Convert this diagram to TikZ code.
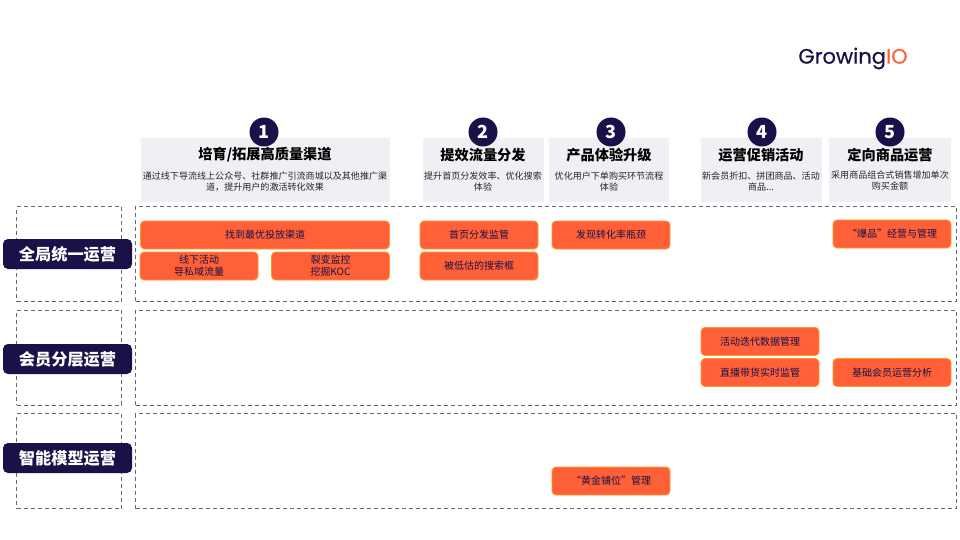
\documentclass[tikz,border=0pt]{standalone}
\usepackage{fontspec}
\setmainfont{Noto Sans CJK SC}
\newfontfamily\logofont[FakeBold=0.5]{Poppins}
\usepackage{xcolor}
\usetikzlibrary{positioning}
\definecolor{Navy}{HTML}{1B1148}
\definecolor{Coral}{HTML}{FF6037}
\definecolor{Amber}{HTML}{FF9A1E}
\definecolor{Pale}{HTML}{EFF0F4}
\definecolor{DashGray}{HTML}{66637F}
\tikzset{
  headbox/.style={fill=Pale,minimum height=64pt,inner sep=0pt},
  numdot/.style={circle,fill=Navy,text=white,minimum size=29pt,inner sep=0pt,font=\fontsize{18}{18}\selectfont\bfseries},
  headtitle/.style={font=\fontsize{14.2}{16}\selectfont\bfseries,text=black,inner sep=0pt},
  headnote/.style={align=center,font=\fontsize{9.05}{11}\selectfont,text=black!85,inner sep=0pt},
  rowbox/.style={draw=DashGray,dashed,line width=0.8pt,dash pattern=on 4pt off 3pt,minimum height=95pt,inner sep=0pt},
  rowlabel/.style={rounded corners=5pt,fill=Navy,text=white,minimum width=129pt,minimum height=30pt,inner sep=0pt,font=\fontsize{16.2}{18}\selectfont\bfseries},
  opbox/.style={draw=Amber,fill=Coral,line width=0.8pt,rounded corners=4pt,minimum width=118pt,minimum height=28pt,inner sep=0pt,align=center,text=Navy,font=\fontsize{10}{12}\selectfont},
}
\begin{document}
\begin{tikzpicture}[x=1pt,y=-1pt]
  \useasboundingbox (0,0) rectangle (960,540);
  % logo
  \node[inner sep=0pt,text=Navy,font=\logofont\fontsize{21}{21}\selectfont] (logo) at (853,58.5) {Growing\textcolor{Coral}{IO}};
  % column heads
  \node[headbox,minimum width=249pt] (headA) at (265.5,170) {};
  \node[headbox,minimum width=121pt] (headB) at (483.5,170) {};
  \node[headbox,minimum width=120pt] (headC) at (609,170) {};
  \node[headbox,minimum width=121pt] (headD) at (761.5,170) {};
  \node[headbox,minimum width=122pt] (headE) at (890,170) {};
  \node[numdot] (dotA) at (264,132) {1};
  \node[numdot] (dotB) at (483,132) {2};
  \node[numdot] (dotC) at (611,132) {3};
  \node[numdot] (dotD) at (762,132) {4};
  \node[numdot] (dotE) at (890,132) {5};
  \node[headtitle] (titleA) at (265,155) {培育/拓展高质量渠道};
  \node[headtitle] (titleB) at (483,155) {提效流量分发};
  \node[headtitle] (titleC) at (609,155) {产品体验升级};
  \node[headtitle] (titleD) at (761,155) {运营促销活动};
  \node[headtitle] (titleE) at (890,155) {定向商品运营};
  \node[headnote] (noteA) at (265,182) {通过线下导流线上公众号、社群推广引流商城以及其他推广渠\\道，提升用户的激活转化效果};
  \node[headnote] (noteB) at (483,181.5) {提升首页分发效率、优化搜索\\体验};
  \node[headnote] (noteC) at (609,182) {优化用户下单购买环节流程\\体验};
  \node[headnote] (noteD) at (761,182) {新会员折扣、拼团商品、活动\\商品...};
  \node[headnote] (noteE) at (890,181) {采用商品组合式销售增加单次\\购买金额};
  % rows
  \node[rowbox,minimum width=105pt] (sideA) at (69,254) {};
  \node[rowbox,minimum width=105pt] (sideB) at (69,357.5) {};
  \node[rowbox,minimum width=105pt] (sideC) at (69,461) {};
  \node[rowbox,minimum width=820.5pt] (mainA) at (545.75,254) {};
  \node[rowbox,minimum width=820.5pt] (mainB) at (545.75,357.5) {};
  \node[rowbox,minimum width=820.5pt] (mainC) at (545.75,461) {};
  \node[rowlabel] (labelA) at (67.5,254) {全局统一运营};
  \node[rowlabel] (labelB) at (67.5,359) {会员分层运营};
  \node[rowlabel] (labelC) at (67.5,458) {智能模型运营};
  % row 1
  \node[opbox,minimum width=249pt] (opChannel) at (265,235) {找到最优投放渠道};
  \node[opbox] (opOffline) at (199,266) {线下活动\\导私域流量};
  \node[opbox] (opFission) at (330.5,266) {裂变监控\\挖掘KOC};
  \node[opbox] (opHome) at (479,235) {首页分发监管};
  \node[opbox] (opSearch) at (479,266) {被低估的搜索框};
  \node[opbox] (opFunnel) at (611,235) {发现转化率瓶颈};
  \node[opbox] (opHot) at (892,234) {“爆品”经营与管理};
  % row 2
  \node[opbox] (opIterate) at (760,341.5) {活动迭代数据管理};
  \node[opbox] (opLive) at (760,372.5) {直播带货实时监管};
  \node[opbox] (opMember) at (892,372.5) {基础会员运营分析};
  % row 3
  \node[opbox] (opGold) at (611,481) {“黄金铺位”管理};
\end{tikzpicture}
\end{document}
